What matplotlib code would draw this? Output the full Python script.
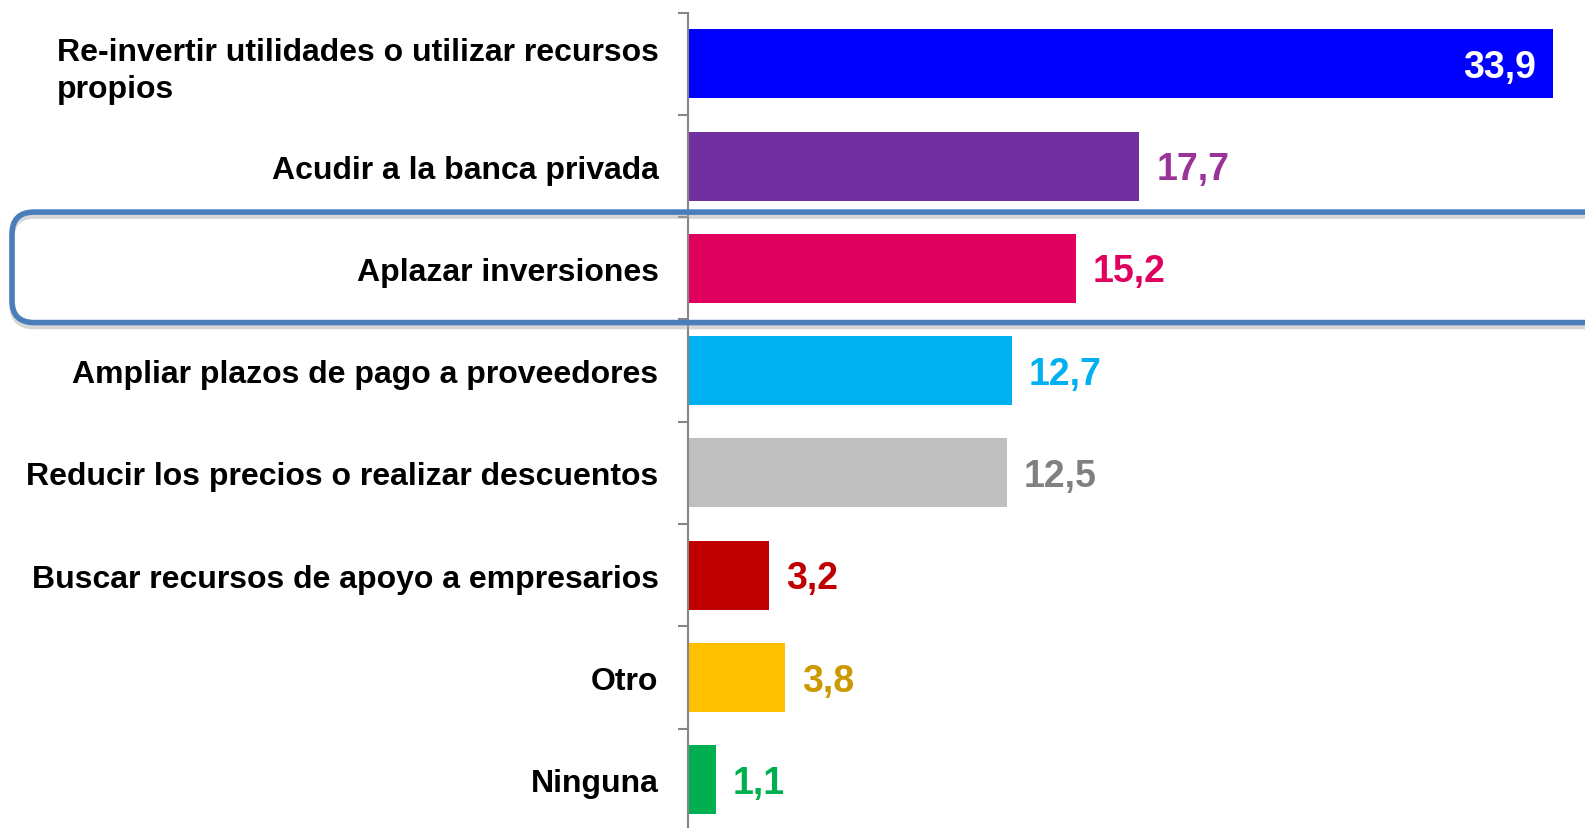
import matplotlib.pyplot as plt
import matplotlib.transforms as mtransforms
from matplotlib.patches import FancyBboxPatch

plt.rcParams["font.family"] = ["Liberation Sans", "DejaVu Sans"]

# %% Data

categories = [
    "Re-invertir utilidades o utilizar recursos\npropios",
    "Acudir a la banca privada",
    "Aplazar inversiones",
    "Ampliar plazos de pago a proveedores",
    "Reducir los precios o realizar descuentos",
    "Buscar recursos de apoyo a empresarios",
    "Otro",
    "Ninguna",
]
values = [33.9, 17.7, 15.2, 12.7, 12.5, 3.2, 3.8, 1.1]
value_labels = ["33,9", "17,7", "15,2", "12,7", "12,5", "3,2", "3,8", "1,1"]
bar_colors = ["#0000FF", "#7030A0", "#E0005E", "#00B0F0", "#BFBFBF", "#C00000", "#FFC000", "#00B050"]
label_colors = ["white", "#993399", "#E0005E", "#00B0F0", "#808080", "#C00000", "#CC9900", "#00B050"]
highlight = 2  # "Aplazar inversiones"

# %% Plot

fig = plt.figure(figsize=(15.85, 8.29), dpi=100)
ax = fig.add_axes([0.4339, -0.0036, 1 - 0.4339, 0.9872])

ypos = list(range(len(categories)))
ax.barh(ypos, values, height=0.675, color=bar_colors, zorder=2)

ax.set_xlim(0, 35.16)
ax.set_ylim(len(categories) - 0.5, -0.5)

# value labels
pt = 72 / 100  # one pixel in points
off = mtransforms.offset_copy(ax.transData, fig=fig, x=17 * pt, y=-3 * pt, units="points")
off_in = mtransforms.offset_copy(ax.transData, fig=fig, x=-17 * pt, y=-3 * pt, units="points")
for i, (v, lab, c) in enumerate(zip(values, value_labels, label_colors)):
    if i == 0:
        ax.text(v, i, lab, transform=off_in, ha="right", va="center",
                color=c, fontsize=27, fontweight="bold", zorder=5)
    else:
        ax.text(v, i, lab, transform=off, ha="left", va="center",
                color=c, fontsize=27, fontweight="bold", zorder=5)

# axis styling
for side in ["top", "right", "bottom"]:
    ax.spines[side].set_visible(False)
ax.spines["left"].set_color("#868686")
ax.spines["left"].set_linewidth(1.5)
ax.xaxis.set_visible(False)

ax.set_yticks([y - 0.5 for y in range(len(categories) + 1)])
ax.set_yticklabels([])
ax.tick_params(axis="y", which="major", length=7, width=1.5, color="#868686", direction="out")
ax.set_yticks(ypos, minor=True)
ax.set_yticklabels(categories, minor=True, fontsize=23, fontweight="bold")
ax.tick_params(axis="y", which="minor", length=0, pad=21)
first = ax.get_yminorticklabels()[0]
first.set_multialignment("left")
first.set_linespacing(1.3)

# highlight box round "Aplazar inversiones" (drawn in pixels)
_, y_top = ax.transData.transform((0, highlight - 0.55))
_, y_bot = ax.transData.transform((0, highlight + 0.53))
x0, x1 = 12, 1585 + 60
box_kw = dict(boxstyle="round,pad=0,rounding_size=22", transform=None,
              fill=False, clip_on=False)
shadow = FancyBboxPatch((x0, y_bot - 4), x1 - x0, y_top - y_bot,
                        edgecolor="#A8A8A8", linewidth=4, alpha=0.45, zorder=9, **box_kw)
fig.add_artist(shadow)
box = FancyBboxPatch((x0, y_bot), x1 - x0, y_top - y_bot,
                     edgecolor="#4A7EBB", linewidth=4, zorder=10, **box_kw)
fig.add_artist(box)

fig.savefig("out.png", dpi=100)
